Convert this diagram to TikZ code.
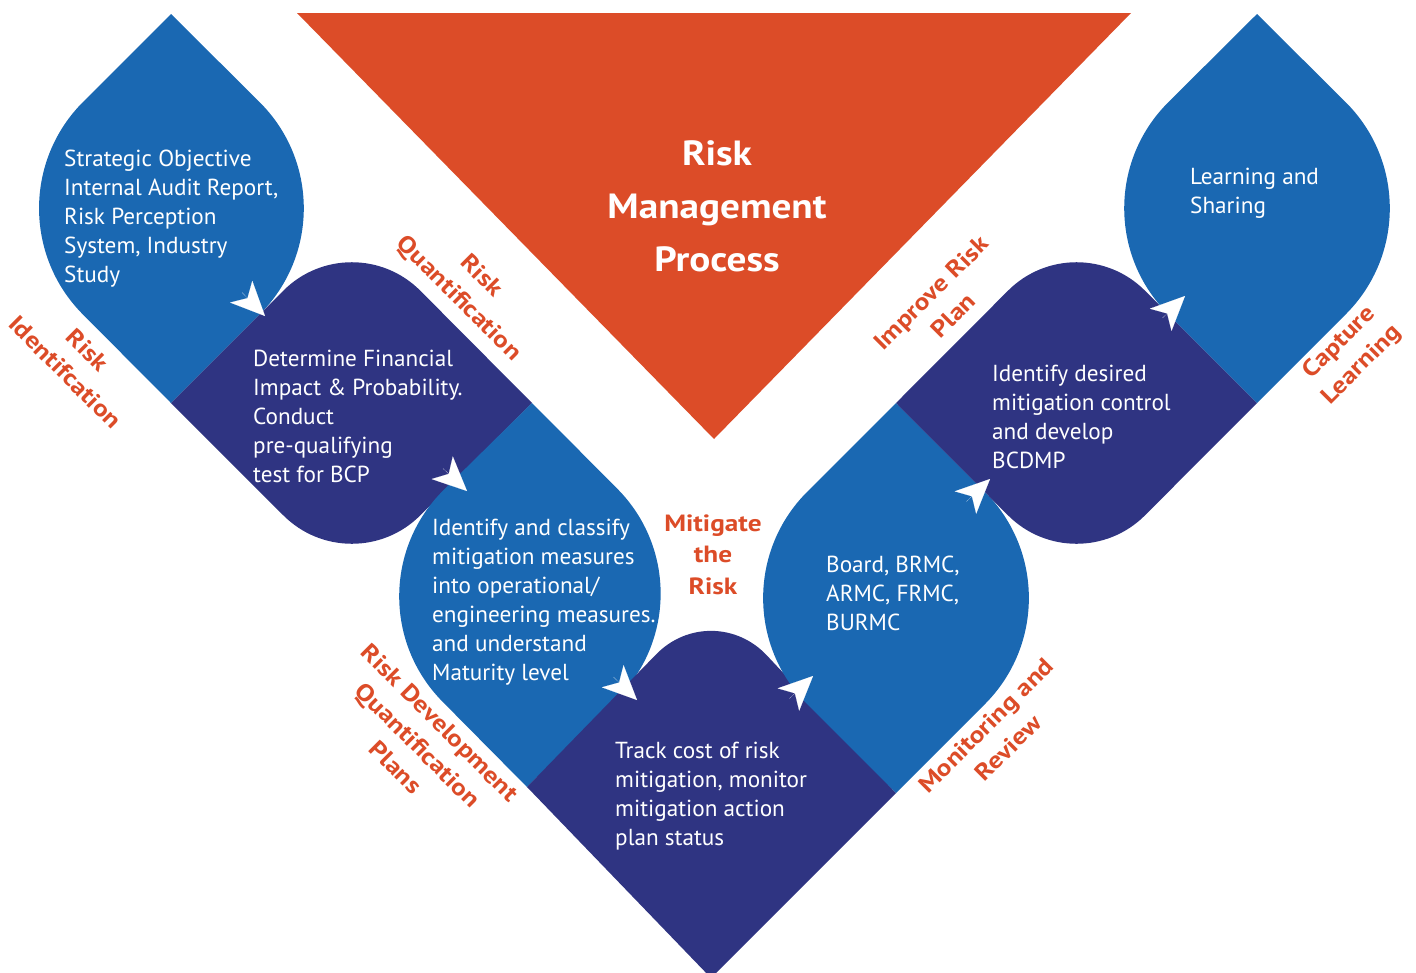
\documentclass[tikz,border=0pt]{standalone}
\usepackage{fontspec}
\setmainfont{PT Sans}
\newfontfamily\lblfont{PT Sans}[FakeStretch=1.16]
\newfontfamily\ttlfont{PT Sans}[FakeStretch=1.12]
\usetikzlibrary{calc,arrows.meta}
\definecolor{lb}{RGB}{26,104,178}
\definecolor{nv}{RGB}{47,52,130}
\definecolor{org}{RGB}{220,76,40}
\begin{document}
\begin{tikzpicture}[x=1pt,y=-1pt,
  rc/.style n args={4}{insert path={-- ($(#2)!#4pt!(#1)$) .. controls ($(#2)!#4*0.4477pt!(#1)$) and ($(#2)!#4*0.4477pt!(#3)$) .. ($(#2)!#4pt!(#3)$)}},
  body/.style={text=white, align=left, anchor=north west, inner sep=0pt, font=\fontsize{23.2}{29}\selectfont},
  lbl/.style={text=org, align=center, inner sep=0pt, font=\lblfont\bfseries\fontsize{23.5}{31.5}\selectfont},
  ttl/.style={text=white, align=center, inner sep=0pt, font=\ttlfont\bfseries\fontsize{35}{53}\selectfont},
  tipa/.style={white, line width=0.1pt, -{Stealth[length=34pt,width=31pt,inset=9pt]}}
]
\useasboundingbox (0,0) rectangle (1416,972);
% corners
\coordinate (s1T) at (171,14);   \coordinate (s1L) at (-23,208);
\coordinate (s1B) at (171,403);  \coordinate (s1R) at (366,208);
\coordinate (s2L) at (171,403);  \coordinate (s2T) at (352,222);
\coordinate (s2R) at (532,403);  \coordinate (s2B) at (352,584);
\coordinate (s3T) at (532,403);  \coordinate (s3L) at (337,595);
\coordinate (s3B) at (527,787);  \coordinate (s3R) at (723,595);
\coordinate (s4L) at (527,787);  \coordinate (s4T) at (712,597);
\coordinate (s4R) at (896,793);  \coordinate (s4B) at (711,978);
\coordinate (s5B) at (896,793);  \coordinate (s5L) at (701,598);
\coordinate (s5T) at (896,403);  \coordinate (s5R) at (1091,598);
\coordinate (s6L) at (896,403);  \coordinate (s6T) at (1076.5,222);
\coordinate (s6R) at (1257,403); \coordinate (s6B) at (1076.5,584);
\coordinate (s7B) at (1257,403); \coordinate (s7L) at (1062,208);
\coordinate (s7T) at (1257,14);  \coordinate (s7R) at (1452,208);
\coordinate (tL) at (297,13); \coordinate (tR) at (1131,13); \coordinate (tB) at (714,439);
% triangle
\fill[org] (tL) -- (tR) -- (tB) -- cycle;
% shapes
\fill[lb] (s1T) [rc={s1T}{s1L}{s1B}{150}] -- (s1B) [rc={s1B}{s1R}{s1T}{150}] -- cycle;
\fill[nv] (s2L) [rc={s2L}{s2T}{s2R}{97}] -- (s2R) [rc={s2R}{s2B}{s2L}{97}] -- cycle;
\fill[lb] (s3T) [rc={s3T}{s3L}{s3B}{150}] -- (s3B) [rc={s3B}{s3R}{s3T}{150}] -- cycle;
\fill[nv] (s4L) [rc={s4L}{s4T}{s4R}{80}] -- (s4R) -- (s4B) -- cycle;
\fill[lb] (s5T) [rc={s5T}{s5L}{s5B}{150}] -- (s5B) [rc={s5B}{s5R}{s5T}{150}] -- cycle;
\fill[nv] (s6L) [rc={s6L}{s6T}{s6R}{97}] -- (s6R) [rc={s6R}{s6B}{s6L}{97}] -- cycle;
\fill[lb] (s7T) [rc={s7T}{s7L}{s7B}{150}] -- (s7B) [rc={s7B}{s7R}{s7T}{150}] -- cycle;
% arrows
\coordinate (a1b) at (242,292.5);  \coordinate (a1t) at (265,316);
\coordinate (a2b) at (443,468.5);  \coordinate (a2t) at (467,491);
\coordinate (a3b) at (613.5,677);  \coordinate (a3t) at (637,700);
\coordinate (a4b) at (789.5,698.5);\coordinate (a4t) at (813,676);
\coordinate (a5b) at (966.5,501.5);\coordinate (a5t) at (990,479);
\coordinate (a6b) at (1162.5,318); \coordinate (a6t) at (1185,296);
\draw[tipa] (a1b) -- (a1t);
\draw[tipa] (a2b) -- (a2t);
\draw[tipa] (a3b) -- (a3t);
\draw[tipa] (a4b) -- (a4t);
\draw[tipa] (a5b) -- (a5t);
\draw[tipa] (a6b) -- (a6t);
% texts
\node[ttl] (title) at (717,206) {Risk\\Management\\Process};
\node[body] (t1) at (64,145.7) {\strut Strategic Objective\\Internal Audit Report,\\Risk Perception\\System, Industry\\Study};
\node[body] (t2) at (253,345.7) {\strut Determine Financial\\Impact \& Probability.\\Conduct\\pre-qualifying\\test for BCP};
\node[body] (t3) at (432,514.7) {\strut Identify and classify\\mitigation measures\\into operational/\\engineering measures.\\and understand\\Maturity level};
\node[body] (t4) at (615,738.2) {\strut Track cost of risk\\mitigation, monitor\\mitigation action\\plan status};
\node[body] (t5) at (826,551.7) {\strut Board, BRMC,\\ARMC, FRMC,\\BURMC};
\node[body] (t6) at (992,360.7) {\strut Identify desired\\mitigation control\\and develop\\BCDMP};
\node[body] (t7) at (1190,163.7) {\strut Learning and\\Sharing};
% labels
\node[lbl] (l0) at (713,554.5) {Mitigate\\the\\Risk};
\node[lbl, rotate=-45] (l1) at (76.5,361) {Risk\\Identifcation};
\node[lbl, rotate=-45] (l2) at (469.5,288) {Risk\\Quantification};
\node[lbl, rotate=-45] (l3) at (418,745) {Risk Development\\Quantification\\Plans};
\node[lbl, rotate=45] (l4) at (942,304) {Improve Risk\\Plan};
\node[lbl, rotate=45] (l5) at (997,736.5) {Monitoring and\\Review};
\node[lbl, rotate=45] (l6) at (1351,354) {Capture\\Learning};
\end{tikzpicture}
\end{document}
